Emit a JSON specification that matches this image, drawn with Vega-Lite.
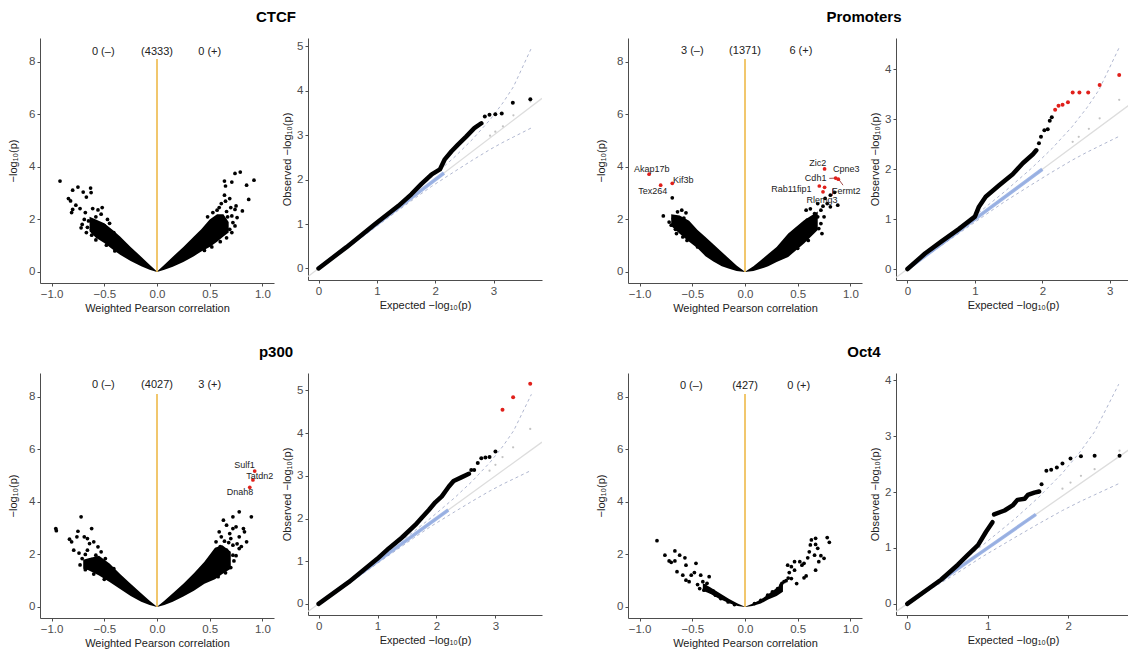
{
"$schema": "https://vega.github.io/schema/vega-lite/v6.json",
"padding": {"left": 7, "top": 10, "right": 0, "bottom": 0},
"background": "white",
"columns": 5,
"spacing": {"row": 90, "column": 34},
"bounds": "flush",
"align": "each",
"datasets": {
"cb": [{"x":-0.64,"y":2.1,"y2":1.55},{"x":-0.58,"y":2.0,"y2":1.3},{"x":-0.5,"y":1.85,"y2":1.1},{"x":-0.42,"y":1.6,"y2":0.85},{"x":-0.35,"y":1.35,"y2":0.65},{"x":-0.25,"y":0.95,"y2":0.42},{"x":-0.15,"y":0.58,"y2":0.22},{"x":-0.07,"y":0.27,"y2":0.08},{"x":0,"y":0.02,"y2":0},{"x":0.07,"y":0.27,"y2":0.08},{"x":0.15,"y":0.58,"y2":0.2},{"x":0.25,"y":0.95,"y2":0.38},{"x":0.35,"y":1.35,"y2":0.6},{"x":0.42,"y":1.62,"y2":0.78},{"x":0.5,"y":2.0,"y2":0.95},{"x":0.57,"y":2.2,"y2":1.15},{"x":0.63,"y":2.2,"y2":1.35},{"x":0.68,"y":1.9,"y2":1.5}],
"cp": [{"x":-0.92,"y":3.46},{"x":-0.8,"y":3.11},{"x":-0.75,"y":3.23},{"x":-0.7,"y":3.04},{"x":-0.63,"y":3.19},{"x":-0.625,"y":3.02},{"x":-0.67,"y":2.85},{"x":-0.84,"y":2.79},{"x":-0.82,"y":2.7},{"x":-0.77,"y":2.54},{"x":-0.8,"y":2.38},{"x":-0.81,"y":2.26},{"x":-0.73,"y":2.41},{"x":-0.68,"y":2.26},{"x":-0.61,"y":2.41},{"x":-0.56,"y":2.36},{"x":-0.52,"y":2.45},{"x":-0.47,"y":2.0},{"x":-0.65,"y":1.94},{"x":-0.71,"y":1.81},{"x":-0.62,"y":1.62},{"x":-0.55,"y":1.5},{"x":-0.41,"y":1.5},{"x":-0.5,"y":1.76},{"x":-0.58,"y":2.1},{"x":-0.66,"y":1.7},{"x":-0.53,"y":2.2},{"x":-0.45,"y":1.85},{"x":-0.69,"y":2.0},{"x":-0.67,"y":1.5},{"x":-0.62,"y":1.4},{"x":-0.58,"y":1.22},{"x":-0.48,"y":1.02},{"x":-0.4,"y":0.8},{"x":-0.72,"y":1.68},{"x":-0.6,"y":1.8},{"x":0.92,"y":3.49},{"x":0.79,"y":3.8},{"x":0.74,"y":3.75},{"x":0.71,"y":3.42},{"x":0.64,"y":3.46},{"x":0.85,"y":3.3},{"x":0.65,"y":3.27},{"x":0.64,"y":2.92},{"x":0.69,"y":2.79},{"x":0.65,"y":2.69},{"x":0.87,"y":2.76},{"x":0.75,"y":2.51},{"x":0.74,"y":2.38},{"x":0.81,"y":2.32},{"x":0.59,"y":2.45},{"x":0.53,"y":2.26},{"x":0.76,"y":2.07},{"x":0.72,"y":1.88},{"x":0.69,"y":1.62},{"x":0.62,"y":2.0},{"x":0.56,"y":2.0},{"x":0.59,"y":1.75},{"x":0.63,"y":1.5},{"x":0.71,"y":2.13},{"x":0.66,"y":2.3},{"x":0.61,"y":2.6},{"x":0.7,"y":2.45},{"x":0.57,"y":2.35},{"x":0.67,"y":2.1},{"x":0.48,"y":2.1},{"x":0.71,"y":1.5},{"x":0.66,"y":1.3},{"x":0.6,"y":1.15},{"x":0.52,"y":0.95},{"x":0.45,"y":0.82},{"x":0.74,"y":1.75}],
"cc": [{"x":-0.51,"y":8.38,"t":"0 (–)"},{"x":0,"y":8.38,"t":"(4333)"},{"x":0.5,"y":8.38,"t":"0 (+)"}],
"pb": [{"x":-0.7,"y":2.2,"y2":1.75},{"x":-0.62,"y":2.15,"y2":1.45},{"x":-0.53,"y":1.95,"y2":1.15},{"x":-0.45,"y":1.6,"y2":0.9},{"x":-0.375,"y":1.33,"y2":0.6},{"x":-0.3,"y":1.05,"y2":0.4},{"x":-0.22,"y":0.76,"y2":0.22},{"x":-0.15,"y":0.5,"y2":0.12},{"x":-0.08,"y":0.25,"y2":0.04},{"x":0,"y":0.01,"y2":0},{"x":0.08,"y":0.22,"y2":0.04},{"x":0.15,"y":0.45,"y2":0.12},{"x":0.22,"y":0.68,"y2":0.22},{"x":0.3,"y":0.95,"y2":0.38},{"x":0.41,"y":1.46,"y2":0.57},{"x":0.56,"y":1.97,"y2":1.08},{"x":0.69,"y":2.3,"y2":1.6}],
"pp": [{"x":-0.69,"y":2.82},{"x":-0.775,"y":2.13},{"x":-0.64,"y":2.29},{"x":-0.6,"y":2.35},{"x":-0.56,"y":2.25},{"x":-0.68,"y":2.03},{"x":-0.7,"y":1.78},{"x":-0.65,"y":1.46},{"x":-0.59,"y":1.33},{"x":-0.53,"y":1.33},{"x":-0.56,"y":1.78},{"x":-0.625,"y":1.97},{"x":-0.58,"y":2.05},{"x":-0.5,"y":1.6},{"x":-0.66,"y":1.62},{"x":-0.62,"y":1.7},{"x":-0.47,"y":1.4},{"x":-0.72,"y":1.9},{"x":-0.45,"y":0.95},{"x":-0.55,"y":1.2},{"x":0.72,"y":2.35},{"x":0.78,"y":2.6},{"x":0.74,"y":2.5},{"x":0.81,"y":2.92},{"x":0.85,"y":3.03},{"x":0.69,"y":2.1},{"x":0.72,"y":1.84},{"x":0.66,"y":2.22},{"x":0.59,"y":1.97},{"x":0.75,"y":2.1},{"x":0.81,"y":2.48},{"x":0.69,"y":2.6},{"x":0.58,"y":2.35},{"x":0.73,"y":1.46},{"x":0.53,"y":1.59},{"x":0.88,"y":2.54},{"x":0.76,"y":2.8},{"x":0.64,"y":1.8},{"x":0.62,"y":2.4},{"x":0.7,"y":1.65},{"x":0.6,"y":1.2},{"x":0.5,"y":0.9}],
"pr": [{"x":-0.91,"y":3.72},{"x":-0.8,"y":3.3},{"x":-0.69,"y":3.37},{"x":0.755,"y":3.92},{"x":0.86,"y":3.57},{"x":0.885,"y":3.53},{"x":0.705,"y":3.27},{"x":0.755,"y":3.22},{"x":0.74,"y":3.05}],
"pl": [{"x":-0.885,"y":3.93,"t":"Akap17b"},{"x":-0.875,"y":3.07,"t":"Tex264"},{"x":-0.585,"y":3.48,"t":"Kif3b"},{"x":0.69,"y":4.15,"t":"Zic2"},{"x":0.67,"y":3.56,"t":"Cdh1"},{"x":0.96,"y":3.92,"t":"Cpne3"},{"x":0.44,"y":3.17,"t":"Rab11fip1"},{"x":0.96,"y":3.08,"t":"Fermt2"},{"x":0.73,"y":2.73,"t":"Rlemg3"}],
"ps": [{"x":0.8,"y":3.56,"x2":0.86,"y2":3.57},{"x":0.89,"y":3.52,"x2":0.93,"y2":3.3},{"x":0.83,"y":2.9,"x2":0.83,"y2":3.17}],
"pc": [{"x":-0.5,"y":8.42,"t":"3 (–)"},{"x":0,"y":8.42,"t":"(1371)"},{"x":0.53,"y":8.42,"t":"6 (+)"}],
"hb": [{"x":-0.7,"y":1.8,"y2":1.45},{"x":-0.65,"y":1.85,"y2":1.4},{"x":-0.55,"y":1.95,"y2":1.2},{"x":-0.45,"y":1.65,"y2":0.95},{"x":-0.35,"y":1.25,"y2":0.68},{"x":-0.25,"y":0.88,"y2":0.42},{"x":-0.15,"y":0.52,"y2":0.2},{"x":-0.07,"y":0.24,"y2":0.07},{"x":0,"y":0.01,"y2":0},{"x":0.07,"y":0.24,"y2":0.07},{"x":0.15,"y":0.52,"y2":0.2},{"x":0.25,"y":0.88,"y2":0.4},{"x":0.35,"y":1.28,"y2":0.62},{"x":0.45,"y":1.72,"y2":0.88},{"x":0.55,"y":2.25,"y2":1.05},{"x":0.62,"y":2.35,"y2":1.25},{"x":0.7,"y":2.1,"y2":1.45}],
"hp": [{"x":-0.96,"y":2.98},{"x":-0.955,"y":2.9},{"x":-0.72,"y":3.43},{"x":-0.83,"y":2.58},{"x":-0.81,"y":2.48},{"x":-0.76,"y":2.67},{"x":-0.75,"y":2.88},{"x":-0.69,"y":2.67},{"x":-0.62,"y":2.98},{"x":-0.66,"y":2.6},{"x":-0.64,"y":2.41},{"x":-0.6,"y":2.48},{"x":-0.79,"y":2.16},{"x":-0.66,"y":2.16},{"x":-0.56,"y":2.29},{"x":-0.71,"y":1.84},{"x":-0.58,"y":1.97},{"x":-0.49,"y":1.84},{"x":-0.41,"y":1.46},{"x":-0.68,"y":2.0},{"x":-0.62,"y":1.8},{"x":-0.74,"y":2.05},{"x":-0.53,"y":2.1},{"x":-0.73,"y":1.6},{"x":-0.68,"y":1.42},{"x":-0.6,"y":1.25},{"x":-0.5,"y":1.05},{"x":0.78,"y":3.62},{"x":0.72,"y":3.43},{"x":0.895,"y":3.43},{"x":0.63,"y":3.3},{"x":0.66,"y":3.11},{"x":0.72,"y":2.98},{"x":0.75,"y":3.05},{"x":0.69,"y":2.79},{"x":0.82,"y":2.98},{"x":0.83,"y":2.86},{"x":0.59,"y":2.86},{"x":0.61,"y":2.67},{"x":0.78,"y":2.67},{"x":0.85,"y":2.48},{"x":0.56,"y":2.48},{"x":0.72,"y":2.35},{"x":0.66,"y":2.16},{"x":0.78,"y":2.22},{"x":0.72,"y":1.97},{"x":0.64,"y":2.5},{"x":0.68,"y":2.45},{"x":0.6,"y":2.3},{"x":0.76,"y":2.4},{"x":0.7,"y":2.6},{"x":0.8,"y":2.3},{"x":0.73,"y":1.75},{"x":0.7,"y":1.5},{"x":0.65,"y":1.3},{"x":0.58,"y":1.15},{"x":0.75,"y":1.95}],
"hr": [{"x":0.927,"y":5.17},{"x":0.91,"y":4.83},{"x":0.88,"y":4.55}],
"hl": [{"x":0.83,"y":5.4,"t":"Sulf1"},{"x":0.975,"y":4.99,"t":"Tatdn2"},{"x":0.787,"y":4.36,"t":"Dnah8"}],
"hc": [{"x":-0.51,"y":8.44,"t":"0 (–)"},{"x":0,"y":8.44,"t":"(4027)"},{"x":0.5,"y":8.44,"t":"3 (+)"}],
"ob": [{"x":-0.4,"y":0.9,"y2":0.62},{"x":-0.33,"y":0.75,"y2":0.5},{"x":-0.25,"y":0.55,"y2":0.32},{"x":-0.15,"y":0.3,"y2":0.14},{"x":-0.07,"y":0.13,"y2":0.04},{"x":0,"y":0.01,"y2":0},{"x":0.07,"y":0.12,"y2":0.04},{"x":0.15,"y":0.28,"y2":0.13},{"x":0.22,"y":0.48,"y2":0.28},{"x":0.3,"y":0.72,"y2":0.42},{"x":0.36,"y":0.92,"y2":0.58}],
"op": [{"x":-0.835,"y":2.52},{"x":-0.76,"y":1.97},{"x":-0.72,"y":1.75},{"x":-0.665,"y":2.13},{"x":-0.62,"y":1.97},{"x":-0.665,"y":1.75},{"x":-0.645,"y":1.34},{"x":-0.57,"y":1.87},{"x":-0.56,"y":1.59},{"x":-0.59,"y":1.21},{"x":-0.56,"y":1.02},{"x":-0.53,"y":0.96},{"x":-0.465,"y":1.66},{"x":-0.51,"y":1.21},{"x":-0.48,"y":1.31},{"x":-0.42,"y":1.21},{"x":-0.4,"y":0.96},{"x":-0.45,"y":0.85},{"x":-0.43,"y":0.7},{"x":-0.39,"y":0.64},{"x":-0.34,"y":1.15},{"x":-0.35,"y":0.7},{"x":-0.32,"y":0.57},{"x":-0.28,"y":0.45},{"x":-0.23,"y":0.32},{"x":-0.16,"y":0.19},{"x":-0.1,"y":0.09},{"x":-0.7,"y":1.7},{"x":-0.38,"y":0.8},{"x":-0.36,"y":0.9},{"x":-0.3,"y":0.6},{"x":-0.27,"y":0.5},{"x":0.67,"y":2.61},{"x":0.63,"y":2.55},{"x":0.78,"y":2.64},{"x":0.8,"y":2.46},{"x":0.62,"y":2.36},{"x":0.67,"y":2.38},{"x":0.69,"y":2.23},{"x":0.61,"y":2.1},{"x":0.66,"y":1.97},{"x":0.72,"y":1.95},{"x":0.75,"y":1.85},{"x":0.7,"y":1.72},{"x":0.595,"y":1.87},{"x":0.56,"y":1.66},{"x":0.52,"y":1.72},{"x":0.47,"y":1.72},{"x":0.54,"y":1.59},{"x":0.44,"y":1.53},{"x":0.405,"y":1.59},{"x":0.67,"y":1.4},{"x":0.56,"y":1.11},{"x":0.58,"y":1.18},{"x":0.47,"y":1.4},{"x":0.42,"y":1.31},{"x":0.49,"y":0.89},{"x":0.44,"y":1.08},{"x":0.37,"y":0.96},{"x":0.34,"y":0.83},{"x":0.31,"y":0.7},{"x":0.26,"y":0.57},{"x":0.215,"y":0.45},{"x":0.15,"y":0.25},{"x":0.09,"y":0.13},{"x":0.39,"y":1.0},{"x":0.41,"y":1.1},{"x":0.35,"y":0.9}],
"oc": [{"x":-0.51,"y":8.41,"t":"0 (–)"},{"x":0,"y":8.41,"t":"(427)"},{"x":0.51,"y":8.41,"t":"0 (+)"}],
"cqd": [{"x":-0.18,"y":-0.18},{"x":3.83,"y":3.83}],
"cqci": [{"g":"u","x":0,"y":0.02},{"g":"u","x":0.5,"y":0.55},{"g":"u","x":1.14,"y":1.2},{"g":"u","x":1.64,"y":1.72},{"g":"u","x":1.94,"y":2.05},{"g":"u","x":2.34,"y":2.52},{"g":"u","x":2.64,"y":2.91},{"g":"u","x":2.94,"y":3.35},{"g":"u","x":3.16,"y":3.73},{"g":"u","x":3.34,"y":4.09},{"g":"u","x":3.64,"y":4.94},{"g":"l","x":0,"y":0},{"g":"l","x":0.5,"y":0.46},{"g":"l","x":1.14,"y":1.09},{"g":"l","x":1.64,"y":1.57},{"g":"l","x":1.94,"y":1.85},{"g":"l","x":2.34,"y":2.19},{"g":"l","x":2.64,"y":2.44},{"g":"l","x":2.94,"y":2.68},{"g":"l","x":3.16,"y":2.84},{"g":"l","x":3.34,"y":2.96},{"g":"l","x":3.64,"y":3.16}],
"cqbl": [{"x":0,"y":0},{"x":2.15,"y":2.15}],
"cqg": [{"x":3.16,"y":3.2},{"x":3.34,"y":3.45},{"x":3.03,"y":3.08},{"x":2.94,"y":2.99},{"x":3.63,"y":3.76}],
"cqb": [{"x":0,"y":0},{"x":0.48,"y":0.48},{"x":0.97,"y":1.0},{"x":1.37,"y":1.41},{"x":1.59,"y":1.67},{"x":1.76,"y":1.9},{"x":1.94,"y":2.12},{"x":2.08,"y":2.23},{"x":2.16,"y":2.45},{"x":2.28,"y":2.64},{"x":2.39,"y":2.79},{"x":2.53,"y":2.97},{"x":2.67,"y":3.16},{"x":2.79,"y":3.27}],
"cqt": [{"x":2.85,"y":3.42},{"x":2.93,"y":3.46},{"x":3.03,"y":3.47},{"x":3.14,"y":3.49},{"x":3.33,"y":3.73},{"x":3.63,"y":3.81}],
"pqd": [{"x":-0.17,"y":-0.17},{"x":3.3,"y":3.3}],
"pqci": [{"g":"u","x":0,"y":0.02},{"g":"u","x":0.64,"y":0.68},{"g":"u","x":1.14,"y":1.22},{"g":"u","x":1.44,"y":1.55},{"g":"u","x":1.84,"y":2.02},{"g":"u","x":2.14,"y":2.41},{"g":"u","x":2.44,"y":2.85},{"g":"u","x":2.66,"y":3.23},{"g":"u","x":2.84,"y":3.59},{"g":"u","x":3.14,"y":4.44},{"g":"l","x":0,"y":0},{"g":"l","x":0.64,"y":0.6},{"g":"l","x":1.14,"y":1.07},{"g":"l","x":1.44,"y":1.35},{"g":"l","x":1.84,"y":1.69},{"g":"l","x":2.14,"y":1.94},{"g":"l","x":2.44,"y":2.18},{"g":"l","x":2.66,"y":2.34},{"g":"l","x":2.84,"y":2.46},{"g":"l","x":3.14,"y":2.66}],
"pqbl": [{"x":0,"y":0},{"x":2.0,"y":2.0}],
"pqg": [{"x":3.14,"y":3.39},{"x":2.85,"y":3.02},{"x":2.69,"y":2.81},{"x":2.54,"y":2.65},{"x":2.45,"y":2.55}],
"pqb": [{"x":0,"y":0},{"x":0.26,"y":0.31},{"x":0.5,"y":0.55},{"x":0.76,"y":0.8},{"x":1.0,"y":1.05},{"x":1.06,"y":1.25},{"x":1.16,"y":1.45},{"x":1.36,"y":1.68},{"x":1.56,"y":1.9},{"x":1.71,"y":2.12},{"x":1.86,"y":2.3},{"x":1.91,"y":2.38}],
"pqt": [{"x":1.95,"y":2.52},{"x":1.98,"y":2.65},{"x":2.03,"y":2.78},{"x":2.08,"y":2.8},{"x":2.11,"y":2.97},{"x":2.14,"y":3.04}],
"pqr": [{"x":2.19,"y":3.19},{"x":2.24,"y":3.27},{"x":2.3,"y":3.29},{"x":2.38,"y":3.34},{"x":2.45,"y":3.54},{"x":2.55,"y":3.54},{"x":2.68,"y":3.54},{"x":2.85,"y":3.69},{"x":3.14,"y":3.89}],
"hqd": [{"x":-0.18,"y":-0.18},{"x":3.79,"y":3.79}],
"hqci": [{"g":"u","x":0,"y":0.02},{"g":"u","x":0.5,"y":0.55},{"g":"u","x":1.11,"y":1.17},{"g":"u","x":1.61,"y":1.69},{"g":"u","x":1.91,"y":2.02},{"g":"u","x":2.31,"y":2.49},{"g":"u","x":2.61,"y":2.88},{"g":"u","x":2.91,"y":3.32},{"g":"u","x":3.13,"y":3.7},{"g":"u","x":3.31,"y":4.06},{"g":"u","x":3.61,"y":4.91},{"g":"l","x":0,"y":0},{"g":"l","x":0.5,"y":0.46},{"g":"l","x":1.11,"y":1.06},{"g":"l","x":1.61,"y":1.54},{"g":"l","x":1.91,"y":1.82},{"g":"l","x":2.31,"y":2.16},{"g":"l","x":2.61,"y":2.41},{"g":"l","x":2.91,"y":2.65},{"g":"l","x":3.13,"y":2.81},{"g":"l","x":3.31,"y":2.93},{"g":"l","x":3.61,"y":3.13}],
"hqbl": [{"x":0,"y":0},{"x":2.2,"y":2.2}],
"hqg": [{"x":3.59,"y":4.1},{"x":3.3,"y":3.67},{"x":3.12,"y":3.44},{"x":3.0,"y":3.26},{"x":2.9,"y":3.12}],
"hqb": [{"x":0,"y":0},{"x":0.51,"y":0.51},{"x":0.99,"y":1.05},{"x":1.19,"y":1.3},{"x":1.41,"y":1.55},{"x":1.64,"y":1.85},{"x":1.75,"y":2.02},{"x":1.87,"y":2.2},{"x":1.98,"y":2.38},{"x":2.09,"y":2.52},{"x":2.21,"y":2.75},{"x":2.29,"y":2.88},{"x":2.43,"y":2.97},{"x":2.55,"y":3.05}],
"hqt": [{"x":2.59,"y":3.14},{"x":2.64,"y":3.14},{"x":2.7,"y":3.3},{"x":2.76,"y":3.41},{"x":2.83,"y":3.43},{"x":2.9,"y":3.44},{"x":3.0,"y":3.57}],
"hqr": [{"x":3.12,"y":4.55},{"x":3.3,"y":4.84},{"x":3.59,"y":5.16}],
"oqd": [{"x":-0.14,"y":-0.14},{"x":2.77,"y":2.77}],
"oqci": [{"g":"u","x":0,"y":0.02},{"g":"u","x":0.3,"y":0.34},{"g":"u","x":0.63,"y":0.7},{"g":"u","x":0.93,"y":1.04},{"g":"u","x":1.33,"y":1.51},{"g":"u","x":1.63,"y":1.9},{"g":"u","x":1.93,"y":2.34},{"g":"u","x":2.15,"y":2.72},{"g":"u","x":2.33,"y":3.08},{"g":"u","x":2.63,"y":3.93},{"g":"l","x":0,"y":0},{"g":"l","x":0.3,"y":0.27},{"g":"l","x":0.63,"y":0.56},{"g":"l","x":0.93,"y":0.84},{"g":"l","x":1.33,"y":1.18},{"g":"l","x":1.63,"y":1.43},{"g":"l","x":1.93,"y":1.67},{"g":"l","x":2.15,"y":1.83},{"g":"l","x":2.33,"y":1.95},{"g":"l","x":2.63,"y":2.15}],
"oqbl": [{"x":0,"y":0},{"x":1.6,"y":1.6}],
"oqg": [{"x":2.64,"y":2.74},{"x":2.33,"y":2.41},{"x":2.16,"y":2.29},{"x":2.03,"y":2.17},{"x":1.93,"y":2.06}],
"oqb": [{"s":"a","x":0,"y":0},{"s":"a","x":0.42,"y":0.43},{"s":"a","x":0.63,"y":0.7},{"s":"a","x":0.75,"y":0.87},{"s":"a","x":0.88,"y":1.05},{"s":"a","x":0.98,"y":1.29},{"s":"a","x":1.06,"y":1.46},{"s":"b","x":1.08,"y":1.6},{"s":"b","x":1.21,"y":1.67},{"s":"b","x":1.31,"y":1.76},{"s":"b","x":1.37,"y":1.86},{"s":"b","x":1.46,"y":1.88},{"s":"b","x":1.5,"y":1.95},{"s":"b","x":1.58,"y":1.99},{"s":"b","x":1.64,"y":2.01}],
"oqt": [{"x":1.67,"y":2.14},{"x":1.73,"y":2.38},{"x":1.79,"y":2.4},{"x":1.86,"y":2.44},{"x":1.93,"y":2.51},{"x":2.03,"y":2.6},{"x":2.16,"y":2.64},{"x":2.33,"y":2.65},{"x":2.64,"y":2.65}],
"sp": [{"t":""}]
},
"concat": [
{"width": 234, "height": 245,
 "title": {"text": "CTCF", "anchor": "end", "align": "center", "dx": 2, "offset": 13, "frame": "group"},
 "encoding": {
  "x": {"field": "x", "type": "quantitative", "scale": {"domain": [-1.11, 1.11], "nice": false, "zero": false}, "axis": {"values": [-1, -0.5, 0, 0.5, 1], "format": ".1f", "title": "Weighted Pearson correlation"}},
  "y": {"field": "y", "type": "quantitative", "scale": {"domain": [-0.42, 8.9], "nice": false, "zero": false}, "axis": {"values": [0, 2, 4, 6, 8], "title": "−log₁₀(p)", "titlePadding": 10}}},
 "layer": [
  {"data": {"name": "cb"}, "mark": {"type": "area", "color": "#000"}, "encoding": {"y2": {"field": "y2"}}},
  {"data": {"name": "cp"}, "mark": {"type": "circle", "color": "#000", "size": 14, "opacity": 1}},
  {"data": {"values": [{"x": 0, "y": 0, "y2": 8.1}]}, "mark": {"type": "rule", "color": "#EDB53C", "strokeWidth": 1.5}, "encoding": {"y2": {"field": "y2"}}},
  {"data": {"name": "cc"}, "mark": {"type": "text", "fontSize": 11, "color": "#222"}, "encoding": {"text": {"field": "t"}}}
 ]},
{"width": 234, "height": 242,
 "encoding": {
  "x": {"field": "x", "type": "quantitative", "scale": {"domain": [-0.18, 3.83], "nice": false, "zero": false}, "axis": {"values": [0, 1, 2, 3], "title": "Expected −log₁₀(p)"}},
  "y": {"field": "y", "type": "quantitative", "scale": {"domain": [-0.26, 5.19], "nice": false, "zero": false}, "axis": {"values": [0, 1, 2, 3, 4, 5], "title": "Observed −log₁₀(p)", "titlePadding": 4}}},
 "layer": [
  {"data": {"name": "cqd"}, "mark": {"type": "line", "color": "#DDDDDD", "strokeWidth": 1.3, "clip": true}},
  {"data": {"name": "cqci"}, "mark": {"type": "line", "color": "#B0B7D0", "strokeWidth": 1, "strokeDash": [3, 3]}, "encoding": {"detail": {"field": "g"}}},
  {"data": {"name": "cqbl"}, "mark": {"type": "line", "color": "#86A3E0", "strokeWidth": 3.5, "opacity": 0.8}},
  {"data": {"name": "cqg"}, "mark": {"type": "circle", "color": "#AAAAAA", "size": 5}},
  {"data": {"name": "cqb"}, "mark": {"type": "line", "color": "#000", "strokeWidth": 4.5, "strokeCap": "round", "strokeJoin": "round"}},
  {"data": {"name": "cqt"}, "mark": {"type": "circle", "color": "#000", "size": 16, "opacity": 1}}
 ]},
{"width": 18, "height": 245, "data": {"name": "sp"}, "mark": {"type": "text"}, "encoding": {"text": {"field": "t"}}},
{"width": 234, "height": 245,
 "title": {"text": "Promoters", "anchor": "end", "align": "center", "dx": 2, "offset": 13, "frame": "group"},
 "encoding": {
  "x": {"field": "x", "type": "quantitative", "scale": {"domain": [-1.11, 1.11], "nice": false, "zero": false}, "axis": {"values": [-1, -0.5, 0, 0.5, 1], "format": ".1f", "title": "Weighted Pearson correlation"}},
  "y": {"field": "y", "type": "quantitative", "scale": {"domain": [-0.42, 8.9], "nice": false, "zero": false}, "axis": {"values": [0, 2, 4, 6, 8], "title": "−log₁₀(p)", "titlePadding": 10}}},
 "layer": [
  {"data": {"name": "pb"}, "mark": {"type": "area", "color": "#000"}, "encoding": {"y2": {"field": "y2"}}},
  {"data": {"name": "pp"}, "mark": {"type": "circle", "color": "#000", "size": 14, "opacity": 1}},
  {"data": {"values": [{"x": 0, "y": 0, "y2": 8.1}]}, "mark": {"type": "rule", "color": "#EDB53C", "strokeWidth": 1.5}, "encoding": {"y2": {"field": "y2"}}},
  {"data": {"name": "ps"}, "mark": {"type": "rule", "color": "#8A1E1E", "strokeWidth": 0.8}, "encoding": {"x2": {"field": "x2"}, "y2": {"field": "y2"}}},
  {"data": {"name": "pr"}, "mark": {"type": "circle", "color": "#E0201B", "size": 14, "opacity": 1}},
  {"data": {"name": "pl"}, "mark": {"type": "text", "fontSize": 9, "color": "#222"}, "encoding": {"text": {"field": "t"}}},
  {"data": {"name": "pc"}, "mark": {"type": "text", "fontSize": 11, "color": "#222"}, "encoding": {"text": {"field": "t"}}}
 ]},
{"width": 234, "height": 242,
 "encoding": {
  "x": {"field": "x", "type": "quantitative", "scale": {"domain": [-0.17, 3.3], "nice": false, "zero": false}, "axis": {"values": [0, 1, 2, 3], "title": "Expected −log₁₀(p)"}},
  "y": {"field": "y", "type": "quantitative", "scale": {"domain": [-0.22, 4.63], "nice": false, "zero": false}, "axis": {"values": [0, 1, 2, 3, 4], "title": "Observed −log₁₀(p)", "titlePadding": 4}}},
 "layer": [
  {"data": {"name": "pqd"}, "mark": {"type": "line", "color": "#DDDDDD", "strokeWidth": 1.3, "clip": true}},
  {"data": {"name": "pqci"}, "mark": {"type": "line", "color": "#B0B7D0", "strokeWidth": 1, "strokeDash": [3, 3]}, "encoding": {"detail": {"field": "g"}}},
  {"data": {"name": "pqbl"}, "mark": {"type": "line", "color": "#86A3E0", "strokeWidth": 3.5, "opacity": 0.8}},
  {"data": {"name": "pqg"}, "mark": {"type": "circle", "color": "#AAAAAA", "size": 5}},
  {"data": {"name": "pqb"}, "mark": {"type": "line", "color": "#000", "strokeWidth": 4.5, "strokeCap": "round", "strokeJoin": "round"}},
  {"data": {"name": "pqt"}, "mark": {"type": "circle", "color": "#000", "size": 16, "opacity": 1}},
  {"data": {"name": "pqr"}, "mark": {"type": "circle", "color": "#E0201B", "size": 16, "opacity": 1}}
 ]},
{"width": 234, "height": 245,
 "title": {"text": "p300", "anchor": "end", "align": "center", "dx": 2, "offset": 13, "frame": "group"},
 "encoding": {
  "x": {"field": "x", "type": "quantitative", "scale": {"domain": [-1.11, 1.11], "nice": false, "zero": false}, "axis": {"values": [-1, -0.5, 0, 0.5, 1], "format": ".1f", "title": "Weighted Pearson correlation"}},
  "y": {"field": "y", "type": "quantitative", "scale": {"domain": [-0.42, 8.9], "nice": false, "zero": false}, "axis": {"values": [0, 2, 4, 6, 8], "title": "−log₁₀(p)", "titlePadding": 10}}},
 "layer": [
  {"data": {"name": "hb"}, "mark": {"type": "area", "color": "#000"}, "encoding": {"y2": {"field": "y2"}}},
  {"data": {"name": "hp"}, "mark": {"type": "circle", "color": "#000", "size": 14, "opacity": 1}},
  {"data": {"values": [{"x": 0, "y": 0, "y2": 8.1}]}, "mark": {"type": "rule", "color": "#EDB53C", "strokeWidth": 1.5}, "encoding": {"y2": {"field": "y2"}}},
  {"data": {"name": "hr"}, "mark": {"type": "circle", "color": "#E0201B", "size": 14, "opacity": 1}},
  {"data": {"name": "hl"}, "mark": {"type": "text", "fontSize": 9, "color": "#222"}, "encoding": {"text": {"field": "t"}}},
  {"data": {"name": "hc"}, "mark": {"type": "text", "fontSize": 11, "color": "#222"}, "encoding": {"text": {"field": "t"}}}
 ]},
{"width": 234, "height": 242,
 "encoding": {
  "x": {"field": "x", "type": "quantitative", "scale": {"domain": [-0.18, 3.79], "nice": false, "zero": false}, "axis": {"values": [0, 1, 2, 3], "title": "Expected −log₁₀(p)"}},
  "y": {"field": "y", "type": "quantitative", "scale": {"domain": [-0.26, 5.41], "nice": false, "zero": false}, "axis": {"values": [0, 1, 2, 3, 4, 5], "title": "Observed −log₁₀(p)", "titlePadding": 4}}},
 "layer": [
  {"data": {"name": "hqd"}, "mark": {"type": "line", "color": "#DDDDDD", "strokeWidth": 1.3, "clip": true}},
  {"data": {"name": "hqci"}, "mark": {"type": "line", "color": "#B0B7D0", "strokeWidth": 1, "strokeDash": [3, 3]}, "encoding": {"detail": {"field": "g"}}},
  {"data": {"name": "hqbl"}, "mark": {"type": "line", "color": "#86A3E0", "strokeWidth": 3.5, "opacity": 0.8}},
  {"data": {"name": "hqg"}, "mark": {"type": "circle", "color": "#AAAAAA", "size": 5}},
  {"data": {"name": "hqb"}, "mark": {"type": "line", "color": "#000", "strokeWidth": 4.5, "strokeCap": "round", "strokeJoin": "round"}},
  {"data": {"name": "hqt"}, "mark": {"type": "circle", "color": "#000", "size": 16, "opacity": 1}},
  {"data": {"name": "hqr"}, "mark": {"type": "circle", "color": "#E0201B", "size": 16, "opacity": 1}}
 ]},
{"width": 18, "height": 245, "data": {"name": "sp"}, "mark": {"type": "text"}, "encoding": {"text": {"field": "t"}}},
{"width": 234, "height": 245,
 "title": {"text": "Oct4", "anchor": "end", "align": "center", "dx": 2, "offset": 13, "frame": "group"},
 "encoding": {
  "x": {"field": "x", "type": "quantitative", "scale": {"domain": [-1.11, 1.11], "nice": false, "zero": false}, "axis": {"values": [-1, -0.5, 0, 0.5, 1], "format": ".1f", "title": "Weighted Pearson correlation"}},
  "y": {"field": "y", "type": "quantitative", "scale": {"domain": [-0.42, 8.9], "nice": false, "zero": false}, "axis": {"values": [0, 2, 4, 6, 8], "title": "−log₁₀(p)", "titlePadding": 10}}},
 "layer": [
  {"data": {"name": "ob"}, "mark": {"type": "area", "color": "#000"}, "encoding": {"y2": {"field": "y2"}}},
  {"data": {"name": "op"}, "mark": {"type": "circle", "color": "#000", "size": 14, "opacity": 1}},
  {"data": {"values": [{"x": 0, "y": 0, "y2": 8.1}]}, "mark": {"type": "rule", "color": "#EDB53C", "strokeWidth": 1.5}, "encoding": {"y2": {"field": "y2"}}},
  {"data": {"name": "oc"}, "mark": {"type": "text", "fontSize": 11, "color": "#222"}, "encoding": {"text": {"field": "t"}}}
 ]},
{"width": 234, "height": 242,
 "encoding": {
  "x": {"field": "x", "type": "quantitative", "scale": {"domain": [-0.14, 2.77], "nice": false, "zero": false}, "axis": {"values": [0, 1, 2], "title": "Expected −log₁₀(p)"}},
  "y": {"field": "y", "type": "quantitative", "scale": {"domain": [-0.2, 4.13], "nice": false, "zero": false}, "axis": {"values": [0, 1, 2, 3, 4], "title": "Observed −log₁₀(p)", "titlePadding": 4}}},
 "layer": [
  {"data": {"name": "oqd"}, "mark": {"type": "line", "color": "#DDDDDD", "strokeWidth": 1.3, "clip": true}},
  {"data": {"name": "oqci"}, "mark": {"type": "line", "color": "#B0B7D0", "strokeWidth": 1, "strokeDash": [3, 3]}, "encoding": {"detail": {"field": "g"}}},
  {"data": {"name": "oqbl"}, "mark": {"type": "line", "color": "#86A3E0", "strokeWidth": 3.5, "opacity": 0.8}},
  {"data": {"name": "oqg"}, "mark": {"type": "circle", "color": "#AAAAAA", "size": 5}},
  {"data": {"name": "oqb"}, "mark": {"type": "line", "color": "#000", "strokeWidth": 4.5, "strokeCap": "round", "strokeJoin": "round"}, "encoding": {"detail": {"field": "s"}}},
  {"data": {"name": "oqt"}, "mark": {"type": "circle", "color": "#000", "size": 16, "opacity": 1}}
 ]}
],
"config": {
 "view": {"stroke": null},
 "font": "Liberation Sans",
 "axis": {"grid": false, "domainColor": "#4d4d4d", "tickColor": "#4d4d4d", "tickSize": 3, "labelPadding": 2, "labelColor": "#4d4d4d", "labelFontSize": 11.5, "titleFontSize": 11, "titleFontWeight": "normal", "titleColor": "#222", "titlePadding": 3},
 "title": {"fontSize": 15, "fontWeight": "bold", "color": "#000"}
}
}
